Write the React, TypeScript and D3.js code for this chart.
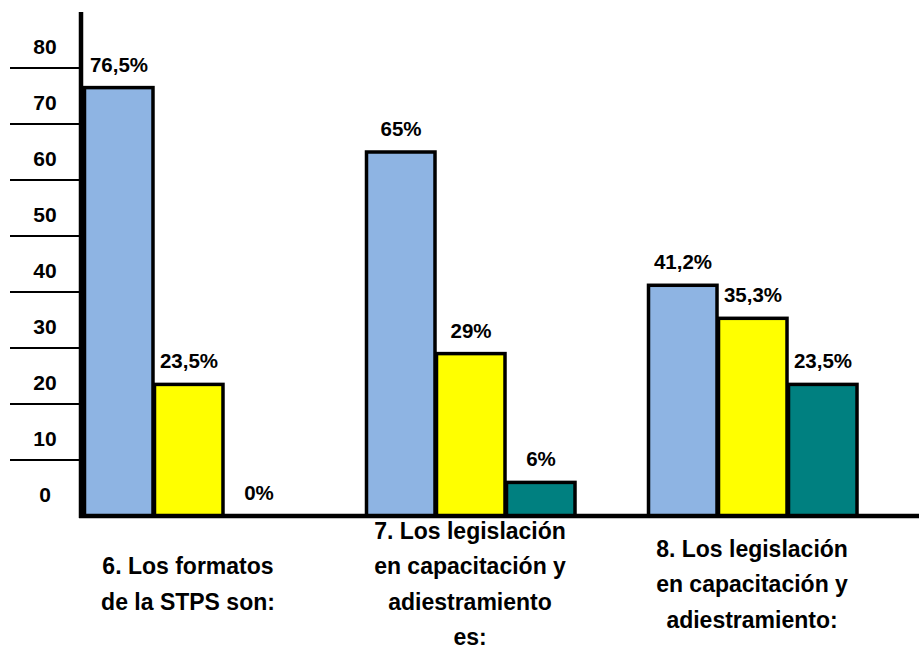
import React from "react";
import * as d3 from "d3";

const categories = ["g6", "g7", "g8"];
const categoryLabels: string[][] = [
  ["6. Los formatos", "de la STPS son:"],
  ["7. Los legislación", "en capacitación y", "adiestramiento", "es:"],
  ["8. Los legislación", "en capacitación y", "adiestramiento:"],
];
const seriesKeys = ["s1", "s2", "s3"];
const seriesColors = ["#8EB4E3", "#FFFF00", "#008080"];
const seriesA = [76.5, 65, 41.2];
const seriesB = [23.5, 29, 35.3];
const seriesC = [0, 6, 23.5];
const valueLabelsA = ["76,5%", "65%", "41,2%"];
const valueLabelsB = ["23,5%", "29%", "35,3%"];
const valueLabelsC = ["0%", "6%", "23,5%"];
const yTicks = [0, 10, 20, 30, 40, 50, 60, 70, 80];

const W = 919;
const H = 652;

export default function App() {
  const y = d3.scaleLinear().domain([0, 90]).range([516, 12]);
  const x0 = d3
    .scaleBand<string>()
    .domain(categories)
    .range([80, 860])
    .paddingInner(72 / 282)
    .paddingOuter(0.0106);
  const x1 = d3
    .scaleBand<string>()
    .domain(seriesKeys)
    .range([0, x0.bandwidth()])
    .padding(0);

  const values = [seriesA, seriesB, seriesC];
  const labels = [valueLabelsA, valueLabelsB, valueLabelsC];
  const font = "'Liberation Sans', Arial, sans-serif";
  const narrow = "'Liberation Sans Narrow', 'Liberation Sans', Arial, sans-serif";

  return (
    <svg
      width={W}
      height={H}
      style={{ position: "absolute", left: 0, top: 0, background: "#fff" }}
    >
      {yTicks
        .filter((t) => t > 0)
        .map((t) => (
          <line
            key={"tl" + t}
            x1={10}
            x2={80}
            y1={y(t)}
            y2={y(t)}
            stroke="#000"
            strokeWidth={2}
          />
        ))}
      {yTicks.map((t) => (
        <text
          key={"tt" + t}
          x={45}
          y={y(t) - 14}
          textAnchor="middle"
          fontFamily={font}
          fontWeight="bold"
          fontSize={21}
          fill="#000"
        >
          {t}
        </text>
      ))}
      {categories.map((c, ci) => (
        <g key={c} transform={`translate(${x0(c)},0)`}>
          {seriesKeys.map((s, si) => {
            const v = values[si][ci];
            const bx = x1(s)!;
            const bw = x1.bandwidth();
            return (
              <g key={s}>
                {v > 0 && (
                  <rect
                    x={bx + 1.5}
                    y={y(v)}
                    width={bw - 1.5}
                    height={y(0) - y(v)}
                    fill={seriesColors[si]}
                    stroke="#000"
                    strokeWidth={3.5}
                  />
                )}
                <text
                  x={bx + bw / 2 + 1}
                  y={y(v) - 16}
                  textAnchor="middle"
                  fontFamily={font}
                  fontWeight="bold"
                  fontSize={20.5}
                  fill="#000"
                >
                  {labels[si][ci]}
                </text>
              </g>
            );
          })}
        </g>
      ))}
      <line x1={81} x2={81} y1={12} y2={518} stroke="#000" strokeWidth={4.5} />
      <line x1={79} x2={919} y1={516} y2={516} stroke="#000" strokeWidth={4.5} />
      {categories.map((c, ci) => {
        const lines = categoryLabels[ci];
        const cx = x0(c)! + x0.bandwidth() / 2;
        return (
          <text
            key={"cl" + c}
            textAnchor="middle"
            fontFamily={narrow}
            fontWeight="bold"
            fontSize={23}
            fill="#000"
          >
            {lines.map((ln, li) => (
              <tspan
                key={li}
                x={cx}
                y={585 + (li - (lines.length - 1) / 2) * 35.5 + 7}
              >
                {ln}
              </tspan>
            ))}
          </text>
        );
      })}
    </svg>
  );
}
